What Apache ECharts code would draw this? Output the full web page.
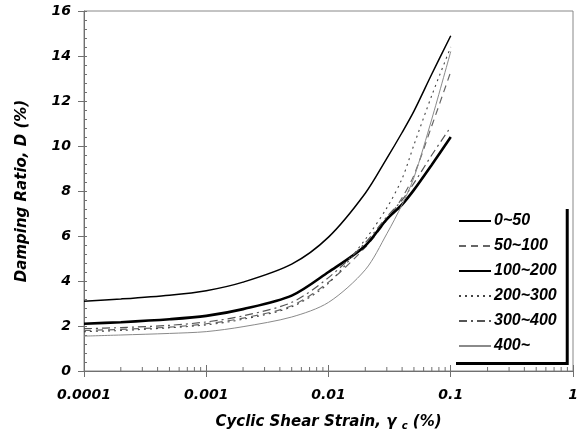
<!DOCTYPE html>
<html>
<head>
<meta charset="utf-8">
<script src="https://cdn.jsdelivr.net/npm/echarts@6/dist/echarts.min.js"></script>
<style>html,body{margin:0;padding:0;background:#fff}#c{width:581px;height:441px}</style>
</head>
<body>
<div id="c"></div>
<script>
// Data
var strain   = [0.0001, 0.0002, 0.0005, 0.001, 0.002, 0.005, 0.01, 0.02, 0.03, 0.04, 0.05, 0.07, 0.1];
var d0_50    = [3.1, 3.2, 3.37, 3.57, 3.95, 4.75, 5.95, 7.9, 9.45, 10.6, 11.55, 13.2, 14.9];
var d50_100  = [1.8, 1.85, 1.95, 2.1, 2.35, 2.9, 3.95, 5.5, 6.7, 7.7, 8.7, 10.9, 13.3];
var d100_200 = [2.1, 2.17, 2.3, 2.45, 2.75, 3.35, 4.4, 5.57, 6.75, 7.4, 8.05, 9.17, 10.4];
var d200_300 = [1.75, 1.8, 1.92, 2.05, 2.3, 2.85, 3.9, 5.85, 7.25, 8.55, 10.05, 12.25, 14.4];
var d300_400 = [1.88, 1.93, 2.03, 2.18, 2.45, 3.05, 4.15, 5.7, 6.85, 7.6, 8.35, 9.6, 10.85];
var d400     = [1.55, 1.6, 1.67, 1.75, 1.97, 2.4, 3.05, 4.5, 6.1, 7.4, 8.6, 11.2, 14.2];
var seriesNames = ['0~50', '50~100', '100~200', '200~300', '300~400', '400~'];
var xTickLabels = ['0.0001', '0.001', '0.01', '0.1', '1'];
var yTicks = [0, 2, 4, 6, 8, 10, 12, 14, 16];

function pairs(ys) { return strain.map(function (x, i) { return [x, ys[i]]; }); }
var minorX = [];
for (var e = -4; e < 0; e++) { for (var k = 2; k <= 9; k++) { minorX.push([k * Math.pow(10, e), 0]); } }

var numFont = {fontFamily: 'DejaVu Sans', fontWeight: 'bold', fontStyle: 'italic', fontSize: 14, color: '#000'};
var axisColor = '#707070';

var chart = echarts.init(document.getElementById('c'), null, {renderer: 'canvas'});
var styles = [
  {color: '#000', width: 1.5, type: 'solid'},
  {color: '#666', width: 1.2, type: [7, 5]},
  {color: '#000', width: 2.6, type: 'solid'},
  {color: '#444', width: 1.1, type: [2, 4]},
  {color: '#555', width: 1.2, type: [8, 4, 2, 4]},
  {color: '#8a8a8a', width: 1, type: 'solid'}
];
var datas = [d0_50, d50_100, d100_200, d200_300, d300_400, d400];
var series = datas.map(function (d, i) {
  return {
    name: seriesNames[i], type: 'line', data: pairs(d), xAxisIndex: 0, yAxisIndex: 0,
    symbol: 'none', smooth: 0.3, animation: false,
    lineStyle: styles[i], itemStyle: {color: styles[i].color}, z: 3
  };
});
series.push({
  type: 'custom', xAxisIndex: 0, yAxisIndex: 0, data: minorX, silent: true, animation: false, z: 4,
  renderItem: function (params, api) {
    var p = api.coord([api.value(0), api.value(1)]);
    return {type: 'line', shape: {x1: p[0], y1: p[1], x2: p[0], y2: p[1] - 4}, style: {stroke: axisColor, lineWidth: 1}};
  }
});

chart.setOption({
  animation: false,
  backgroundColor: '#fff',
  grid: {left: 84, top: 11, right: 8, bottom: 70, show: true, borderColor: '#888', borderWidth: 1, backgroundColor: 'transparent'},
  legend: {
    orient: 'vertical', left: 453, top: 206,
    data: seriesNames,
    itemWidth: 32, itemHeight: 14, itemGap: 9,
    padding: [7, 9, 8, 5],
    backgroundColor: '#fff',
    shadowColor: '#000', shadowBlur: 0, shadowOffsetX: 3, shadowOffsetY: 3,
    itemStyle: {opacity: 0},
    textStyle: {fontFamily: 'Liberation Sans', fontWeight: 'bold', fontStyle: 'italic', fontSize: 16, color: '#000', padding: [0, 0, 0, -2]},
    selectedMode: false
  },
  xAxis: [{
    type: 'log', logBase: 10, min: 0.0001, max: 1,
    name: '{n|Cyclic Shear Strain, γ }{s|c}{n| (%)}',
    nameLocation: 'middle', nameGap: 43,
    nameTextStyle: {rich: {
      n: {fontFamily: 'DejaVu Sans', fontWeight: 'bold', fontStyle: 'italic', fontSize: 15, color: '#000'},
      s: {fontFamily: 'DejaVu Sans', fontWeight: 'bold', fontStyle: 'italic', fontSize: 10, color: '#000', padding: [7, 0, 0, 0]}
    }},
    axisLine: {show: true, onZero: false, lineStyle: {color: axisColor, width: 1}},
    axisTick: {show: true, inside: false, length: 6, lineStyle: {color: axisColor}},
    splitLine: {show: false},
    axisLabel: Object.assign({margin: 17, formatter: function (v) {
      var i = Math.round(Math.log(v) / Math.LN10) + 4; return xTickLabels[i] || '';
    }}, numFont)
  }, {
    type: 'log', logBase: 10, min: 0.0001, max: 1, position: 'bottom',
    axisLine: {show: false}, axisLabel: {show: false}, splitLine: {show: false},
    axisTick: {show: true, inside: true, length: 6, lineStyle: {color: axisColor}}
  }],
  yAxis: [{
    type: 'value', min: 0, max: 16, interval: 2,
    name: 'Damping Ratio, D (%)', nameLocation: 'middle', nameGap: 54,
    nameTextStyle: {fontFamily: 'DejaVu Sans', fontWeight: 'bold', fontStyle: 'italic', fontSize: 15, color: '#000'},
    axisLine: {show: true, onZero: false, lineStyle: {color: axisColor, width: 1}},
    axisTick: {show: true, inside: false, length: 6, lineStyle: {color: axisColor}},
    splitLine: {show: false},
    axisLabel: Object.assign({margin: 13, formatter: function (v) { return yTicks.indexOf(v) >= 0 ? String(v) : ''; }}, numFont)
  }, {
    type: 'value', min: 0, max: 16, interval: 2, position: 'left', offset: 0,
    axisLine: {show: false}, axisLabel: {show: false}, splitLine: {show: false},
    axisTick: {show: true, inside: true, length: 3, lineStyle: {color: axisColor}},
    minorTick: {show: true, splitNumber: 5, length: 3, lineStyle: {color: axisColor}}
  }],
  series: series
});
</script>
</body>
</html>
